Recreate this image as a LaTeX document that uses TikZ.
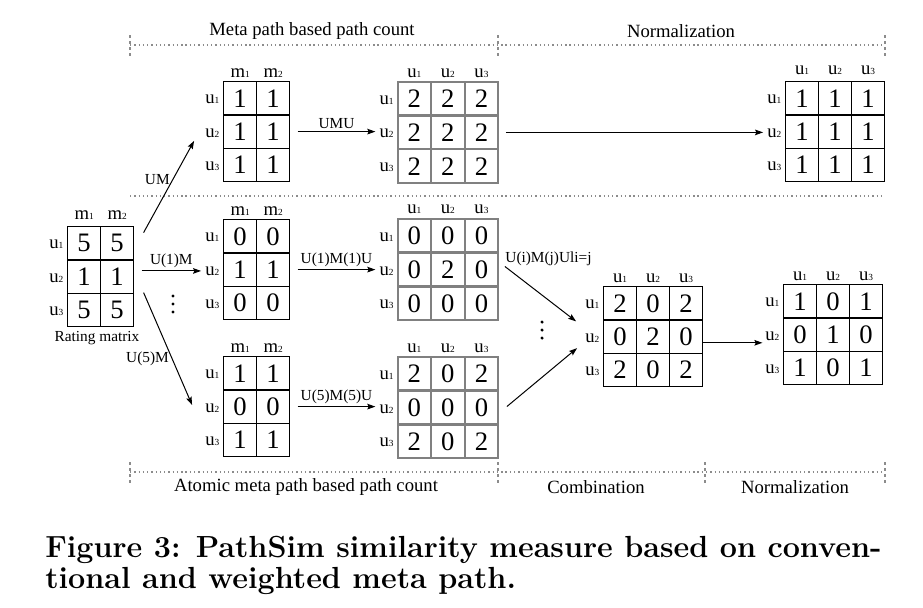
\documentclass[tikz,border=0pt]{standalone}
\usepackage{fontspec}
\newfontfamily\tms{Liberation Serif}
\usetikzlibrary{matrix,arrows.meta,calc}
\newcommand\usub[1]{u{\fontsize{7}{7}\selectfont #1}}
\newcommand\msub[1]{m{\fontsize{7}{7}\selectfont #1}}
\newcommand\rowlabs[1]{\foreach \i in {1,2,3}{\node[lab, anchor=east] (#1u\i) at ([xshift=-3pt,yshift=-1pt]#1-\i-1.west) {\usub{\i}};}}
\newcommand\colhdr[4]{\foreach \j in {1,...,#3}{\node[lab, anchor=base] (#1h\j) at ([yshift=#4]#1-1-\j.north) {#2{\j}};}}
\newcommand\vdotsat[2]{\foreach \k in {-8,0,8} \fill (#1,#2+\k) circle[radius=1.3pt];}
\tikzset{
  cell/.style={draw=black, line width=0.9pt, minimum width=24.75pt, minimum height=25pt, inner sep=0pt, font=\tms\fontsize{20}{20}\selectfont},
  mat/.style={matrix of nodes, nodes={cell}, column sep=-0.9pt, row sep=-0.9pt, inner sep=0pt, outer sep=0pt, anchor=north west},
  gmat/.style={mat, nodes={draw=black!50, line width=1.3pt}},
  lab/.style={font=\tms\fontsize{14}{14}\selectfont, inner sep=0pt},
  arr/.style={-{Stealth[length=6pt,width=4.2pt,inset=1pt]}, line width=0.75pt},
  alab/.style={font=\tms\fontsize{11.5}{11.5}\selectfont, inner sep=2pt},
  sec/.style={font=\tms\fontsize{14}{14}\selectfont, inner sep=0pt},
  dotl/.style={black!45, line width=0.8pt, dash pattern=on 1pt off 2.2pt},
  tickl/.style={black!45, line width=0.8pt, dash pattern=on 2pt off 2.5pt}
}
\begin{document}
\begin{tikzpicture}[x=0.75pt,y=-0.75pt]
\useasboundingbox[fill=white] (0,0) rectangle (923,607);

% section dividers
\draw[dotl] (130,45) -- (885,45);
\draw[dotl] (130,196) -- (885,196);
\draw[dotl] (130,472) -- (885,472);
\foreach \x in {130,498,885} \draw[tickl] (\x,35) -- (\x,57);
\foreach \x in {130,498,705,885} \draw[tickl] (\x,462) -- (\x,484);
\node[sec] (s1) at (312,31) {Meta path based path count};
\node[sec] (s2) at (681,31) {Normalization};
\node[sec] (s3) at (306,487) {Atomic meta path based path count};
\node[sec] (s4) at (596,487) {Combination};
\node[sec] (s5) at (795,487) {Normalization};

% rating matrix
\matrix (R) [mat] at (67,226) {5 & 5\\ 1 & 1\\ 5 & 5\\};
\rowlabs{R}\colhdr{R}{\msub}{2}{5pt}
\node[font=\tms\fontsize{11.5}{11.5}\selectfont, inner sep=0pt] (rt) at (97,338) {Rating matrix};

% upper row
\matrix (A1) [mat] at (223,81) {1 & 1\\ 1 & 1\\ 1 & 1\\};
\rowlabs{A1}\colhdr{A1}{\msub}{2}{3pt}
\matrix (B1) [gmat] at (397,81) {2 & 2 & 2\\ 2 & 2 & 2\\ 2 & 2 & 2\\};
\rowlabs{B1}\colhdr{B1}{\usub}{3}{3pt}
\matrix (N1) [mat] at (785,81) {1 & 1 & 1\\ 1 & 1 & 1\\ 1 & 1 & 1\\};
\rowlabs{N1}\colhdr{N1}{\usub}{3}{5pt}

% middle row
\matrix (A2) [mat] at (223,219) {0 & 0\\ 1 & 1\\ 0 & 0\\};
\rowlabs{A2}\colhdr{A2}{\msub}{2}{3pt}
\matrix (B2) [gmat] at (397,218) {0 & 0 & 0\\ 0 & 2 & 0\\ 0 & 0 & 0\\};
\rowlabs{B2}\colhdr{B2}{\usub}{3}{4pt}

% lower row
\matrix (A3) [mat] at (223,356) {1 & 1\\ 0 & 0\\ 1 & 1\\};
\rowlabs{A3}\colhdr{A3}{\msub}{2}{3pt}
\matrix (B3) [gmat] at (397,356) {2 & 0 & 2\\ 0 & 0 & 0\\ 2 & 0 & 2\\};
\rowlabs{B3}\colhdr{B3}{\usub}{3}{3pt}

% combination and normalization
\matrix (C) [mat] at (603,286) {2 & 0 & 2\\ 0 & 2 & 0\\ 2 & 0 & 2\\};
\rowlabs{C}\colhdr{C}{\usub}{3}{3pt}
\matrix (N2) [mat] at (783,284) {1 & 0 & 1\\ 0 & 1 & 0\\ 1 & 0 & 1\\};
\rowlabs{N2}\colhdr{N2}{\usub}{3}{3pt}

% arrows from rating matrix
\draw[arr] ([shift={(10,6)}]R-1-2.north east) -- node[alab, left, pos=0.58] {UM} ([shift={(-11,8)}]A1u2.west);
\draw[arr] ([xshift=6pt]R-2-2.east |- A2u2.west) -- node[alab, above] {U(1)M} ([xshift=-3pt]A2u2.west);
\vdotsat{173}{304}
\draw[arr] ([shift={(10,-34)}]R-3-2.south east) -- node[alab, left, pos=0.585] {U(5)M} ([shift={(-13,-3)}]A3u2.west);

% path count arrows
\draw[arr] ([xshift=6pt]A1-2-2.east) -- node[alab, above] {UMU} ([xshift=-3pt]A1-2-2.east -| B1u2.west);
\draw[arr] ([xshift=6pt]B1-2-3.east) -- ([xshift=-3pt]B1-2-3.east -| N1u2.west);
\draw[arr] ([xshift=6pt]A2-2-2.east) -- node[alab, above] {U(1)M(1)U} ([xshift=-3pt]A2-2-2.east -| B2u2.west);
\draw[arr] ([xshift=6pt]A3-2-2.east) -- node[alab, above] {U(5)M(5)U} ([xshift=-3pt]A3-2-2.east -| B3u2.west);

% combination arrows
\draw[arr] ([shift={(7,-3)}]B2-2-3.east) node[alab, anchor=south west, inner sep=0pt] {U(i)M(j)Uli=j} -- ([shift={(-9,0)}]$(Cu1.west)!0.5!(Cu2.west)$);
\vdotsat{542}{330}
\draw[arr] ([shift={(9,-1)}]B3-2-3.east) -- ([shift={(-8,10)}]Cu2.west);
\draw[arr] ([yshift=-4.5pt]C-2-3.east) -- ([xshift=-2pt,yshift=-4.5pt]C-2-3.east -| N2u2.west);

% caption
\node[anchor=base west, inner sep=0pt, font=\bfseries\fontsize{22.9}{22.9}\selectfont] (cap1) at (45,557) {Figure 3: PathSim similarity measure based on conven-};
\node[anchor=base west, inner sep=0pt, font=\bfseries\fontsize{22.9}{22.9}\selectfont] (cap2) at (45,588) {tional and weighted meta path.};
\end{tikzpicture}
\end{document}
